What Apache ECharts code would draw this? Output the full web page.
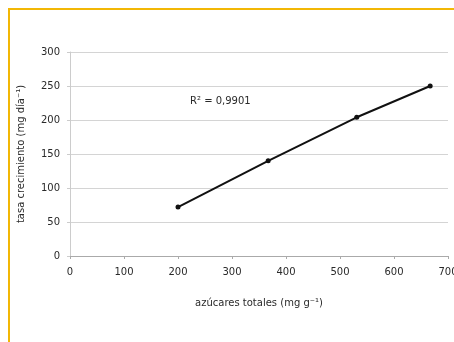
<!DOCTYPE html>
<html>
<head>
<meta charset="utf-8">
<script src="https://cdn.jsdelivr.net/npm/echarts@6/dist/echarts.min.js"></script>
<style>
html,body{margin:0;padding:0;background:#fff;}
#chart{width:454px;height:342px;}
</style>
</head>
<body>
<div id="chart"></div>
<script>
// Total sugars (mg g-1) vs. growth rate (mg day-1)
const sugars = [200, 367, 531, 667];
const growthRate = [72, 140, 204, 250];
const xTicks = [0, 100, 200, 300, 400, 500, 600, 700];
const yTicks = [0, 50, 100, 150, 200, 250, 300];
const r2Label = 'R² = 0,9901';

const chart = echarts.init(document.getElementById('chart'));
const font = 'DejaVu Sans, Verdana, sans-serif';
const textColor = '#2a2a2a';
chart.setOption({
  animation: false,
  grid: { left: 70, right: 6, top: 52, bottom: 86, outerBoundsMode: 'none', containLabel: false },
  xAxis: {
    type: 'value', min: xTicks[0], max: xTicks[xTicks.length - 1], interval: 100,
    name: 'azúcares totales (mg g⁻¹)', nameLocation: 'middle', nameGap: 42,
    nameTextStyle: { fontFamily: font, fontSize: 10, color: textColor },
    axisLine: { show: true, lineStyle: { color: '#aaa', width: 1 } },
    axisTick: { show: true, length: 3, lineStyle: { color: '#aaa' } },
    axisLabel: { fontFamily: font, fontSize: 10, color: textColor, margin: 11 },
    splitLine: { show: false }
  },
  yAxis: {
    type: 'value', min: yTicks[0], max: yTicks[yTicks.length - 1], interval: 50,
    name: 'tasa crecimiento (mg día⁻¹)', nameLocation: 'middle', nameGap: 44,
    nameTextStyle: { fontFamily: font, fontSize: 10, color: textColor },
    axisLine: { show: true, lineStyle: { color: '#ccc', width: 1 } },
    axisTick: { show: true, length: 3, lineStyle: { color: '#ccc' } },
    axisLabel: { fontFamily: font, fontSize: 10, color: textColor, margin: 10 },
    splitLine: { show: true, lineStyle: { color: '#d4d4d4', width: 1 } }
  },
  series: [{
    type: 'line',
    data: sugars.map((x, i) => [x, growthRate[i]]),
    lineStyle: { color: '#111', width: 2 },
    itemStyle: { color: '#111' },
    symbol: 'circle', symbolSize: 5, showSymbol: true
  }],
  graphic: [
    { type: 'rect', shape: { x: 8, y: 8, width: 2, height: 334 }, style: { fill: '#f2b705' } },
    { type: 'rect', shape: { x: 8, y: 8, width: 446, height: 2 }, style: { fill: '#f2b705' } },
    { type: 'text', left: 190, top: 96, style: { text: r2Label, fontFamily: font, fontSize: 10, fill: textColor } }
  ]
});
</script>
</body>
</html>
